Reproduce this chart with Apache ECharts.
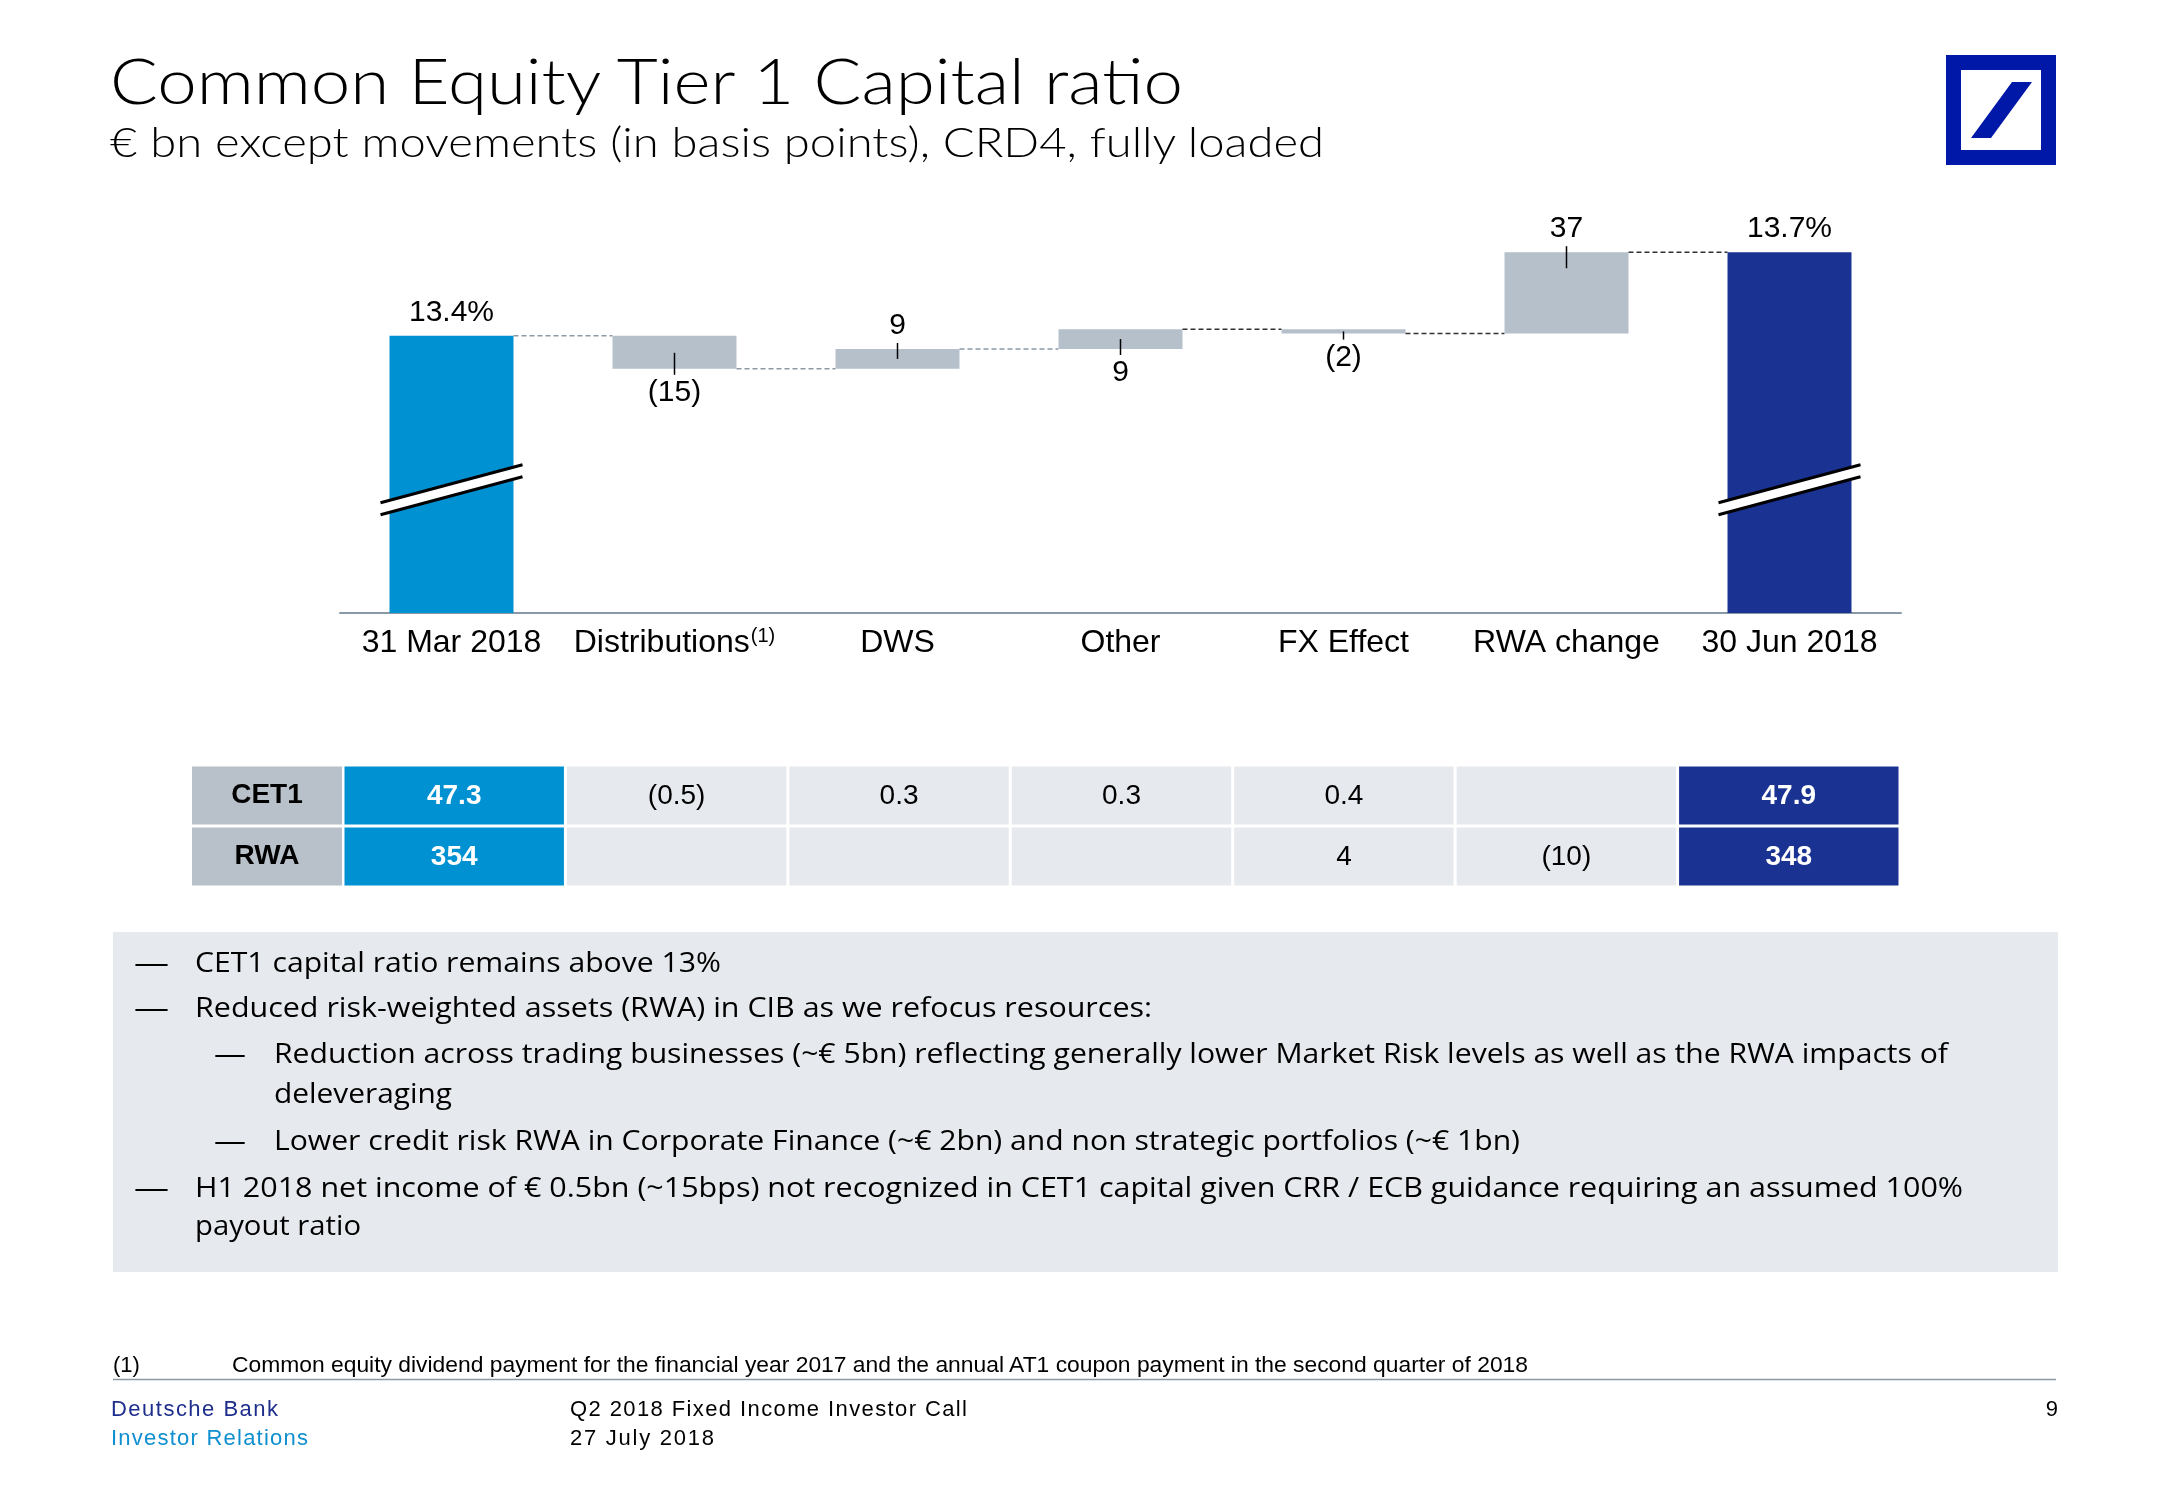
<!DOCTYPE html>
<html>
<head>
<meta charset="utf-8">
<script src="https://cdn.jsdelivr.net/npm/echarts@6/dist/echarts.min.js"></script>
<style>
html,body{margin:0;padding:0;background:#fff;}
body{width:2166px;height:1500px;position:relative;overflow:hidden;}
#chart{position:absolute;left:0;top:0;width:2166px;height:1500px;}
#overlay{position:absolute;left:0;top:0;pointer-events:none;}
.ttl{font-family:Lato,"Open Sans",sans-serif;font-weight:300;fill:#000;}
.body{font-family:"Open Sans","Liberation Sans",sans-serif;font-size:28px;fill:#000;}
.foot{font-family:"Liberation Sans",Arial,sans-serif;font-size:22px;}
</style>
</head>
<body>
<div id="chart"></div>
<svg id="overlay" width="2166" height="1500" xmlns="http://www.w3.org/2000/svg">
  <text class="ttl" x="110" y="104" font-size="64" textLength="1073" lengthAdjust="spacingAndGlyphs">Common Equity Tier 1 Capital ratio</text>
  <text class="ttl" x="110" y="157" font-size="42" textLength="1214" lengthAdjust="spacingAndGlyphs">€ bn except movements (in basis points), CRD4, fully loaded</text>
  <!-- logo -->
  <rect x="1946" y="55" width="110" height="110" fill="#0018A8"/>
  <rect x="1961" y="70" width="80" height="80" fill="#fff"/>
  <polygon points="2012,82 2032,82 1991,138 1971,138" fill="#0018A8"/>
  <!-- bullet box -->
  <rect x="113" y="932" width="1945" height="340" fill="#E6E9ED"/>
  <g class="body">
    <text x="134" y="972" textLength="35" lengthAdjust="spacingAndGlyphs">—</text>
    <text x="195" y="972" textLength="526" lengthAdjust="spacingAndGlyphs">CET1 capital ratio remains above 13%</text>
    <text x="134" y="1017" textLength="35" lengthAdjust="spacingAndGlyphs">—</text>
    <text x="195" y="1017" textLength="957" lengthAdjust="spacingAndGlyphs">Reduced risk-weighted assets (RWA) in CIB as we refocus resources:</text>
    <text x="214" y="1063" textLength="32" lengthAdjust="spacingAndGlyphs">—</text>
    <text x="274" y="1063" textLength="1674" lengthAdjust="spacingAndGlyphs">Reduction across trading businesses (~€ 5bn) reflecting generally lower Market Risk levels as well as the RWA impacts of</text>
    <text x="274" y="1103" textLength="178" lengthAdjust="spacingAndGlyphs">deleveraging</text>
    <text x="214" y="1150" textLength="32" lengthAdjust="spacingAndGlyphs">—</text>
    <text x="274" y="1150" textLength="1246" lengthAdjust="spacingAndGlyphs">Lower credit risk RWA in Corporate Finance (~€ 2bn) and non strategic portfolios (~€ 1bn)</text>
    <text x="134" y="1197" textLength="35" lengthAdjust="spacingAndGlyphs">—</text>
    <text x="195" y="1197" textLength="1768" lengthAdjust="spacingAndGlyphs">H1 2018 net income of € 0.5bn (~15bps) not recognized in CET1 capital given CRR / ECB guidance requiring an assumed 100%</text>
    <text x="195" y="1235" textLength="166" lengthAdjust="spacingAndGlyphs">payout ratio</text>
  </g>
  <!-- footnote -->
  <text class="foot" x="113" y="1372" fill="#000">(1)</text>
  <text class="foot" x="232" y="1372" fill="#000" textLength="1296" lengthAdjust="spacingAndGlyphs">Common equity dividend payment for the financial year 2017 and the annual AT1 coupon payment in the second quarter of 2018</text>
  <line x1="113" y1="1379.5" x2="2056" y2="1379.5" stroke="#8C9AA6" stroke-width="1.5"/>
  <!-- footer -->
  <text class="foot" x="111" y="1416" fill="#1E2E8C" textLength="167" lengthAdjust="spacing">Deutsche Bank</text>
  <text class="foot" x="111" y="1445" fill="#0E8FD0" textLength="197" lengthAdjust="spacing">Investor Relations</text>
  <text class="foot" x="570" y="1416" fill="#000" textLength="397" lengthAdjust="spacing">Q2 2018 Fixed Income Investor Call</text>
  <text class="foot" x="570" y="1445" fill="#000" textLength="144" lengthAdjust="spacing">27 July 2018</text>
  <text class="foot" x="2058" y="1416" fill="#000" text-anchor="end">9</text>
</svg>
<script>
// ---------------- DATA ----------------
const categories = ['31 Mar 2018', 'Distributions', 'DWS', 'Other', 'FX Effect', 'RWA change', '30 Jun 2018'];
const footnoteMarks = { 'Distributions': '(1)' };
const startRatioBps = 1340;               // 13.4%
const movementsBps = [-15, 9, 9, -2, 37]; // Distributions, DWS, Other, FX Effect, RWA change
const valueLabels = ['13.4%', '(15)', '9', '9', '(2)', '37', '13.7%'];
const tableRows = ['CET1', 'RWA'];
const cet1Values = [47.3, -0.5, 0.3, 0.3, 0.4, null, 47.9];
const rwaValues = [354, null, null, null, 4, -10, 348];

// ---------------- STYLE / LAYOUT ----------------
const FONT = '"Liberation Sans", Arial, sans-serif';
const Y_MIN = 1214, Y_MAX = 1424, BREAK_AT = 1270;
const BAR_RATIO = 0.556;
const C_START = '#0091D2', C_END = '#1A3291', C_MOVE = '#B5C0CB';
const C_CELL = '#E6E9EE', C_HEAD = '#B8C1C9';
const LABEL_SIDE = ['top', 'bottom', 'top', 'bottom', 'bottom', 'top', 'top'];
const CONNECTOR_COLORS = ['#8C99A6', '#8C99A6', '#8C99A6', '#333333', '#333333', '#333333'];

// ---------------- BUILD ----------------
const waterfall = [];
let level = startRatioBps;
waterfall.push([0, Y_MIN, level, 0]);
movementsBps.forEach((m, k) => { waterfall.push([k + 1, level, level + m, 1]); level += m; });
waterfall.push([categories.length - 1, Y_MIN, level, 0]);

function fmt(v, dec) {
  if (v === null || v === undefined) return '';
  const s = Math.abs(v).toFixed(dec);
  return v < 0 ? '(' + s + ')' : s;
}
const tableText = [cet1Values.map(v => fmt(v, 1)), rwaValues.map(v => fmt(v, 0))];
const tableData = [];
categories.forEach((c, col) => { tableRows.forEach((r, row) => tableData.push([col, row])); });

function renderWaterfall(params, api) {
  const i = api.value(0), a = api.value(1), b = api.value(2), kind = api.value(3);
  const bandW = api.size([1, 0])[0];
  const bw = bandW * BAR_RATIO;
  const pA = api.coord([i, a]), pB = api.coord([i, b]);
  const cx = pA[0];
  const yTop = Math.min(pA[1], pB[1]), yBot = Math.max(pA[1], pB[1]);
  const h = yBot - yTop;
  const last = categories.length - 1;
  const fill = i === 0 ? C_START : (i === last ? C_END : C_MOVE);
  const ch = [];
  ch.push({ type: 'rect', shape: { x: cx - bw / 2, y: yTop, width: bw, height: h }, style: { fill: fill } });
  if (kind === 0) {
    const cy = api.coord([i, BREAK_AT])[1];
    const dx = bw / 2 + 9, dy = 19, g = 6;
    ch.push({ type: 'polygon', shape: { points: [[cx - dx, cy + dy - g], [cx + dx, cy - dy - g], [cx + dx, cy - dy + g], [cx - dx, cy + dy + g]] }, style: { fill: '#fff' } });
    ch.push({ type: 'line', shape: { x1: cx - dx, y1: cy + dy - g, x2: cx + dx, y2: cy - dy - g }, style: { stroke: '#000', lineWidth: 3 } });
    ch.push({ type: 'line', shape: { x1: cx - dx, y1: cy + dy + g, x2: cx + dx, y2: cy - dy + g }, style: { stroke: '#000', lineWidth: 3 } });
  }
  const side = LABEL_SIDE[i];
  const inside = Math.min(h / 2, 16);
  if (kind === 1) {
    if (side === 'top') {
      ch.push({ type: 'line', shape: { x1: cx, y1: yTop - 6, x2: cx, y2: yTop + inside }, style: { stroke: '#000', lineWidth: 1.5 } });
    } else {
      ch.push({ type: 'line', shape: { x1: cx, y1: yBot - inside, x2: cx, y2: yBot + 6 }, style: { stroke: '#000', lineWidth: 1.5 } });
    }
  }
  if (side === 'top') {
    ch.push({ type: 'text', style: { text: valueLabels[i], x: cx, y: yTop - 8, align: 'center', verticalAlign: 'bottom', font: '30px ' + FONT, fill: '#000' } });
  } else {
    ch.push({ type: 'text', style: { text: valueLabels[i], x: cx, y: yBot + 9, align: 'center', verticalAlign: 'top', font: '30px ' + FONT, fill: '#000' } });
  }
  if (i < last) {
    const yc = pB[1];
    const nx = api.coord([i + 1, b])[0];
    ch.push({ type: 'line', shape: { x1: cx + bw / 2, y1: yc, x2: nx - bw / 2, y2: yc }, style: { stroke: CONNECTOR_COLORS[i], lineWidth: 1.5, lineDash: [5, 3] } });
  }
  return { type: 'group', children: ch };
}

function renderTable(params, api) {
  const col = api.value(0), row = api.value(1);
  const c = api.coord([col, row]);
  const s = api.size([1, 1]);
  const w = s[0] - 3, hh = s[1] - 3;
  const last = categories.length - 1;
  const colored = col === 0 || col === last;
  const fill = col === 0 ? C_START : (col === last ? C_END : C_CELL);
  return {
    type: 'group', children: [
      { type: 'rect', shape: { x: c[0] - w / 2, y: c[1] - hh / 2, width: w, height: hh }, style: { fill: fill } },
      { type: 'text', style: { text: tableText[row][col], x: c[0], y: c[1] + 1, align: 'center', verticalAlign: 'middle',
        font: (colored ? 'bold ' : '') + '28px ' + FONT, fill: colored ? '#fff' : '#000' } }
    ]
  };
}

const chart = echarts.init(document.getElementById('chart'), null, { renderer: 'canvas' });
chart.setOption({
  animation: false,
  backgroundColor: '#fff',
  grid: [
    { left: 340, right: 265, top: 151, bottom: 887 },
    { left: 343, right: 266, top: 765, bottom: 613 }
  ],
  xAxis: [
    {
      type: 'category', gridIndex: 0, data: categories,
      axisLine: { lineStyle: { color: '#8A99A7', width: 2 } },
      axisTick: { show: false },
      axisLabel: {
        interval: 0, margin: 10, color: '#000', fontFamily: FONT, fontSize: 32,
        formatter: v => footnoteMarks[v] ? '{a|' + v + '}{s|' + footnoteMarks[v] + '}' : '{a|' + v + '}',
        rich: {
          a: { fontSize: 32, lineHeight: 40, fontFamily: FONT, color: '#000' },
          s: { fontSize: 20, lineHeight: 26, fontFamily: FONT, color: '#000', padding: [0, 0, 14, 1] }
        }
      }
    },
    { type: 'category', gridIndex: 1, data: categories, show: false }
  ],
  yAxis: [
    { type: 'value', gridIndex: 0, min: Y_MIN, max: Y_MAX, show: false },
    {
      type: 'category', gridIndex: 1, data: tableRows, inverse: true,
      axisLine: { show: false }, axisTick: { show: false }, splitLine: { show: false },
      axisLabel: {
        margin: 1, align: 'right',
        formatter: v => '{h|' + v + '}',
        rich: {
          h: { width: 150, height: 58, lineHeight: 58, align: 'center', backgroundColor: C_HEAD,
               fontWeight: 'bold', fontSize: 28, fontFamily: FONT, color: '#000' }
        }
      }
    }
  ],
  series: [
    {
      type: 'custom', name: 'CET1 ratio', xAxisIndex: 0, yAxisIndex: 0, clip: false,
      renderItem: renderWaterfall, data: waterfall, encode: { x: 0, y: [1, 2] }
    },
    {
      type: 'custom', name: 'Table', xAxisIndex: 1, yAxisIndex: 1, clip: false,
      renderItem: renderTable, data: tableData, encode: { x: 0, y: 1 }
    }
  ]
});
</script>
</body>
</html>
